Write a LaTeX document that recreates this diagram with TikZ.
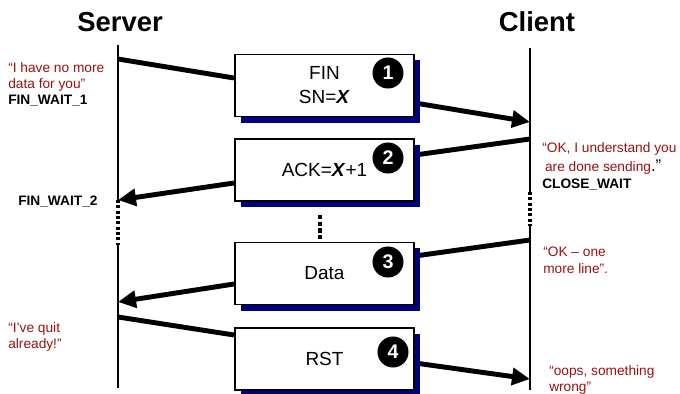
\documentclass[tikz,border=0pt]{standalone}
\usepackage{fontspec}
\setmainfont{Liberation Sans}
\usetikzlibrary{positioning, calc, arrows.meta, shadows}
\pgfdeclarelayer{background}
\pgfsetlayers{background,main}
\definecolor{tcp-red}{RGB}{153,17,17}
\definecolor{tcp-navy}{RGB}{0,0,128}

\begin{document}
\begin{tikzpicture}
    [x=0.025cm, y=-0.025cm,
    msg/.style = {rectangle, draw, line width=1.4pt, fill=white, align=center,
            minimum width=4.475cm, minimum height=1.55cm,
            font=\fontsize{13.5}{17}\selectfont,
            drop shadow={shadow xshift=0.15cm, shadow yshift=-0.15cm, fill=tcp-navy, opacity=1}},
    num/.style = {circle, fill=black, text=white, inner sep=0pt, minimum size=0.775cm,
            font=\fontsize{14}{14}\selectfont\bfseries},
    life/.style = {line width=2pt},
    wait/.style = {line width=2.2pt, dash pattern=on 2.2pt off 1.6pt},
    pkt/.style = {line width=3.5pt},
    pktarr/.style = {line width=3.5pt, -{Triangle[length=0.45cm, width=0.42cm]}},
    say/.style = {anchor=north west, align=left, text=tcp-red, inner sep=0pt,
            font=\fontsize{9.75}{11.5}\selectfont},
    state/.style = {inner sep=0pt, font=\fontsize{9.75}{11.5}\selectfont\bfseries},
    title/.style = {font=\fontsize{19.5}{20}\selectfont\bfseries},
    ]
    \useasboundingbox (0,0) rectangle (680,394);

	\node[title] (server) at (120,22) {Server};
	\node[title] (client) at (537,22) {Client};

	% lifelines
	\coordinate (srv-top) at (118,45);
	\coordinate (srv-w1) at (118,200);
	\coordinate (srv-w2) at (118,245);
	\coordinate (srv-bot) at (118,388);
	\coordinate (cli-top) at (530,48);
	\coordinate (cli-w1) at (530,192);
	\coordinate (cli-w2) at (530,226);
	\coordinate (cli-bot) at (530,390);

	\draw[life] (srv-top) -- (srv-w1);
	\draw[wait] (srv-w1) -- (srv-w2);
	\draw[life] (srv-w2) -- (srv-bot);
	\draw[life] (cli-top) -- (cli-w1);
	\draw[wait] (cli-w1) -- (cli-w2);
	\draw[life] (cli-w2) -- (cli-bot);

	% segments
	\node[msg] (fin) at (324.5,85.5) {FIN\\SN=\textbf{\textit{X}}};
	\node[msg] (ack) at (324.5,170) {ACK=\textbf{\textit{X}}+1};
	\node[msg] (data) at (324.5,273.5) {Data};
	\node[msg] (rst) at (324.5,359) {RST};

	\node[num] (n1) at (388,73) {1};
	\node[num] (n2) at (388,158) {2};
	\node[num] (n3) at (388,262) {3};
	\node[num] (n4) at (393,352) {4};

	\draw[line width=2.2pt, dash pattern=on 3pt off 1.8pt] (ack.south -| 320,0) ++(0,13) coordinate (gap-a) -- (data.north -| 320,0) ++(0,-5);

	% events on the lifelines
	\coordinate (s-fin) at (118,59);
	\coordinate (c-fin) at (530,122);
	\coordinate (c-ack) at (530,139);
	\coordinate (s-ack) at (118,200);
	\coordinate (c-data) at (530,240);
	\coordinate (s-data) at (118,302);
	\coordinate (s-rst) at (118,317);
	\coordinate (c-rst) at (530,379);

	\begin{pgfonlayer}{background}
	\draw[pkt] (s-fin) -- ($(fin.west)+(0,-7.5)$);
	\draw[pktarr] ($(fin.east)+(0,17.5)$) -- (c-fin);
	\draw[pkt] (c-ack) -- ($(ack.east)+(0,-15)$);
	\draw[pktarr] ($(ack.west)+(0,13)$) -- (s-ack);
	\draw[pkt] (c-data) -- ($(data.east)+(0,-17.5)$);
	\draw[pktarr] ($(data.west)+(0,10.5)$) -- (s-data);
	\draw[pkt] (s-rst) -- ($(rst.west)+(0,-24)$);
	\draw[pktarr] ($(rst.east)+(0,4)$) -- (c-rst);
	\end{pgfonlayer}

	% what the ends say
	\node[say] (say-fin) at (8,62) {“I have no more\\data for you”\\{\color{black}\bfseries FIN\_WAIT\_1}};
	\node[state, anchor=west] (fw2) at (18,202) {FIN\_WAIT\_2};
	\node[say] (say-ack) at (542,142) {“OK, I understand you\\[2.5pt]\hspace{2pt}are done sending{\color{black}\fontsize{12}{12}\selectfont.”}\\{\color{black}\bfseries CLOSE\_WAIT}};
	\node[say] (say-data) at (543,247) {“OK – one\\more line”.};
	\node[say] (say-quit) at (8,322) {“I’ve quit\\already!”};
	\node[say] (say-rst) at (549,365) {“oops, something\\wrong”};
\end{tikzpicture}
\end{document}
